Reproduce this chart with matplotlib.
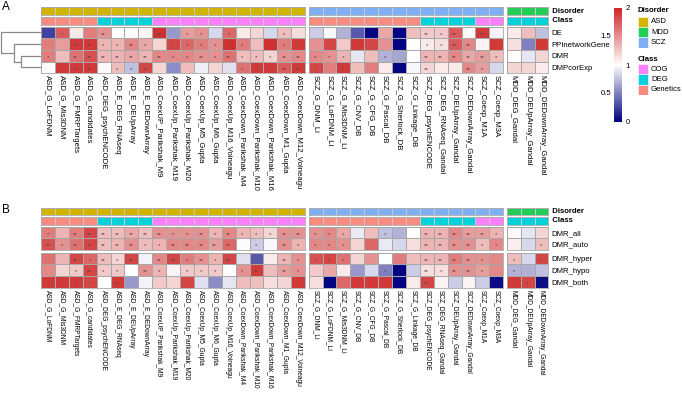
import matplotlib
matplotlib.use('Agg')
import matplotlib.pyplot as plt
import numpy as np
from matplotlib.colors import LinearSegmentedColormap, ListedColormap
from matplotlib.patches import Rectangle
import matplotlib.cm as cm
import matplotlib.colors as mcolors

plt.rcParams['font.family'] = ['Liberation Sans', 'DejaVu Sans']

# ---------------- data ----------------
asd_cols = ['ASD_G_LoFDNM', 'ASD_G_Mis3DNM', 'ASD_G_FMRPTargets', 'ASD_G_candidates',
            'ASD_DEG_psychENCODE', 'ASD_E_DEG_RNAseq', 'ASD_E_DEUpArray', 'ASD_E_DEDownArray',
            'ASD_CoexUP_Parikshak_M9', 'ASD_CoexUp_Parikshak_M19', 'ASD_CoexUp_Parikshak_M20',
            'ASD_CoexUp_M5_Gupta', 'ASD_CoexUp_M6_Gupta', 'ASD_CoexUp_M16_Voineagu',
            'ASD_CoexDown_Parikshak_M4', 'ASD_CoexDown_Parikshak_M10', 'ASD_CoexDown_Parikshak_M16',
            'ASD_CoexDown_M1_Gupta', 'ASD_CoexDown_M12_Voineagu']
scz_cols = ['SCZ_G_DNM_Li', 'SCZ_G_LoFDNM_Li', 'SCZ_G_Mis3DNM_Li', 'SCZ_G_CNV_DB', 'SCZ_G_CFG_DB',
            'SCZ_G_Pascal_DB', 'SCZ_G_Sherlock_DB', 'SCZ_G_Linkage_DB', 'SCZ_DEG_psychENCODE',
            'SCZ_DEG_RNAseq_Gandal', 'SCZ_DEUpArray_Gandal', 'SCZ_DEDownArray_Gandal',
            'SCZ_Coexp_M1A', 'SCZ_Coexp_M3A']
mdd_cols = ['MDD_DEG_Gandal', 'MDD_DEUpArray_Gandal', 'MDD_DEDownArray_Gandal']

asd_class = ['Genetics'] * 4 + ['DEG'] * 4 + ['COG'] * 11
scz_class = ['Genetics'] * 8 + ['DEG'] * 4 + ['COG'] * 2
mdd_class = ['DEG'] * 3

disorder_names = ['ASD', 'MDD', 'SCZ']
disorder_colors = ['#D2B400', '#22CC55', '#7EAEF4']
class_names = ['COG', 'DEG', 'Genetics']
class_colors = ['#FF80FF', '#00D2DC', '#F88A80']

# panel A rows (columns: ASD | SCZ | MDD)
rows_a = ['DE', 'PPInetworkGene', 'DMR', 'DMPcorExp']
DE = [0.25, 1.75, 1.1, 1.6, 1.5, 1.0, 1.02, 1.05, 1.95, 0.6, 1.45, 1.5, 0.85, 1.7, 1.1, 1.2, 0.85, 1.3, 1.15,
      0.8, 0.97, 0.7, 0.35, 0.02, 1.4, 0.02, 1.3, 1.25, 1.25, 1.75, 1.02, 1.9, 1.05,
      1.1, 1.3, 0.75]
PPI = [1.6, 1.45, 1.9, 1.9, 1.35, 1.35, 1.55, 1.4, 1.2, 1.85, 1.7, 1.6, 1.5, 1.95, 1.6, 1.3, 1.95, 1.6, 1.9,
       1.5, 1.85, 1.25, 1.9, 1.85, 1.5, 0.02, 1.0, 1.1, 1.15, 1.75, 1.55, 1.05, 1.9,
       1.15, 0.5, 1.9]
DMR = [1.6, 1.3, 1.65, 1.8, 1.35, 1.35, 1.4, 1.35, 1.55, 1.55, 1.55, 1.5, 1.5, 1.65, 1.3, 1.3, 1.2, 1.5, 1.55,
       1.55, 1.5, 1.35, 0.9, 1.3, 0.7, 0.65, 1.0, 1.35, 1.35, 1.55, 1.4, 1.45, 1.3,
       1.02, 0.9, 1.2]
DMP = [1.02, 1.9, 1.9, 1.9, 1.03, 1.3, 0.75, 1.85, 1.2, 0.55, 1.3, 0.93, 1.2, 0.88, 1.65, 1.9, 1.9, 1.75, 1.9,
       1.85, 1.6, 1.9, 1.3, 1.6, 1.1, 0.02, 0.97, 1.2, 1.1, 1.1, 1.55, 1.45, 0.85,
       1.2, 1.2, 1.1]
# number of stars per cell
DE_sig = [0, 1, 0, 0, 2, 0, 0, 0, 2, 0, 1, 1, 0, 1, 0, 0, 0, 1, 0,
          0, 0, 0, 0, 0, 0, 0, 0, 2, 1, 2, 0, 2, 0,
          0, 0, 0]
PPI_sig = [0, 0, 2, 2, 1, 1, 2, 1, 0, 1, 1, 1, 1, 1, 1, 0, 0, 1, 1,
           0, 0, 0, 1, 0, 0, 0, 0, 1, 1, 2, 2, 0, 0,
           0, 0, 0]
DMR_sig = [1, 0, 2, 2, 2, 2, 2, 2, 2, 1, 1, 2, 1, 2, 1, 1, 1, 2, 2,
           1, 1, 1, 0, 0, 1, 0, 0, 2, 2, 2, 2, 2, 1,
           0, 0, 0]
DMP_sig = [0, 1, 2, 2, 0, 1, 1, 2, 0, 0, 0, 0, 0, 0, 1, 1, 1, 2, 2,
           1, 0, 1, 0, 0, 0, 0, 0, 2, 0, 0, 2, 1, 0,
           0, 0, 0]

# panel B rows
rows_b1 = ['DMR_all', 'DMR_auto']
rows_b2 = ['DMR_hyper', 'DMR_hypo', 'DMR_both']
DMR_all = [1.6, 1.35, 1.6, 1.85, 1.3, 1.3, 1.4, 1.3, 1.5, 1.5, 1.5, 1.5, 1.35, 1.55, 1.35, 1.3, 1.2, 1.5, 1.5,
           1.5, 1.55, 1.4, 0.92, 1.3, 0.75, 0.7, 1.0, 1.35, 1.35, 1.55, 1.45, 1.45, 1.35,
           1.03, 0.9, 1.2]
DMR_auto = [1.8, 1.5, 1.65, 1.85, 1.3, 1.35, 1.5, 1.3, 1.35, 1.55, 1.55, 1.55, 1.45, 1.7, 1.02, 0.8, 0.97, 1.5, 1.35,
            1.55, 1.55, 1.5, 1.2, 1.7, 0.92, 0.85, 1.15, 1.35, 1.35, 1.5, 1.5, 1.3, 1.55,
            1.08, 0.85, 1.3]
DMR_hyper = [1.65, 1.35, 1.85, 1.7, 1.3, 1.2, 1.85, 0.95, 1.55, 1.85, 1.6, 1.5, 1.35, 1.85, 0.88, 0.35, 1.1, 1.35, 1.5,
             1.8, 1.85, 1.65, 1.2, 1.5, 1.0, 1.6, 1.3, 1.35, 1.35, 1.6, 1.5, 1.5, 1.55,
             1.3, 0.85, 1.85]
DMR_hypo = [1.55, 1.2, 1.25, 1.85, 1.25, 1.25, 1.0, 1.5, 1.35, 1.05, 1.25, 1.25, 1.25, 1.0, 1.5, 1.9, 1.3, 1.45, 1.5,
            1.25, 1.4, 1.1, 0.6, 0.85, 0.5, 0.02, 0.8, 1.15, 1.15, 1.5, 1.5, 1.45, 1.55,
            0.7, 0.7, 0.75]
DMR_both = [1.9, 1.9, 1.9, 1.85, 1.0, 1.9, 0.6, 0.95, 1.25, 1.2, 1.85, 0.88, 0.55, 0.9, 1.3, 1.3, 1.15, 1.2, 1.9,
            1.15, 0.02, 1.7, 1.9, 1.9, 1.9, 0.02, 1.1, 1.85, 1.05, 0.8, 1.05, 0.8, 0.05,
            1.9, 1.85, 0.05]
DMR_all_sig = [1, 0, 2, 2, 2, 2, 2, 2, 2, 1, 1, 2, 1, 2, 1, 1, 1, 2, 2,
               1, 1, 1, 0, 0, 1, 0, 0, 2, 2, 2, 2, 2, 1,
               0, 0, 0]
DMR_auto_sig = [2, 1, 2, 2, 2, 2, 2, 1, 1, 2, 2, 2, 2, 2, 0, 1, 0, 2, 1,
                1, 1, 1, 0, 0, 0, 0, 0, 2, 2, 2, 2, 1, 1,
                0, 0, 1]
DMR_hyper_sig = [0, 0, 2, 1, 2, 1, 2, 0, 2, 2, 1, 2, 1, 2, 0, 1, 0, 2, 1,
                 1, 1, 1, 0, 0, 0, 0, 0, 2, 2, 2, 2, 1, 0,
                 1, 0, 1]
DMR_hypo_sig = [0, 0, 1, 2, 1, 1, 0, 2, 1, 0, 1, 1, 1, 0, 1, 2, 0, 2, 1,
                0, 0, 0, 0, 0, 1, 0, 0, 2, 1, 2, 2, 1, 0,
                1, 0, 0]
DMR_both_sig = [1, 0, 1, 1, 0, 2, 0, 0, 0, 0, 0, 0, 0, 0, 0, 0, 0, 0, 0,
                0, 0, 0, 0, 0, 0, 0, 0, 2, 0, 0, 0, 0, 0,
                0, 1, 0]

# dendrogram of panel A rows (scipy-like linkage: left, right, height)
dendro_merges = [(2, 3, 0.49), (1, 4, 0.67), (0, 5, 1.0)]

# ---------------- layout ----------------
W, H = 682, 403
fig = plt.figure(figsize=(W / 100, H / 100), dpi=100)

def px_axes(x0, y0, x1, y1):
    return fig.add_axes([x0 / W, 1 - y1 / H, (x1 - x0) / W, (y1 - y0) / H])

cmap = LinearSegmentedColormap.from_list('bwr_ch', ['#000080', '#FFFFFF', '#CD2626'])
blocks = [('ASD', asd_cols, asd_class), ('SCZ', scz_cols, scz_class), ('MDD', mdd_cols, mdd_class)]
cell_w = 13.9
block_gap = 3.5
x_start = 41
grid_col = '#A8A8A8'
LBL = 5.6

def block_x():
    out = []
    x = x_start
    for name, cols, _ in blocks:
        out.append((x, x + cell_w * len(cols)))
        x += cell_w * len(cols) + block_gap
    return out

def style(ax):
    ax.set_xticks([])
    ax.set_yticks([])
    for s in ax.spines.values():
        s.set_color(grid_col)
        s.set_linewidth(0.6)

def draw_panel(letter, letter_y, ann_y, groups, col_fs):
    xs = block_x()
    fig.text(2 / W, 1 - letter_y / H, letter, fontsize=8.5, va='top', ha='left')
    offset = 0
    for bi, (name, cols, classes) in enumerate(blocks):
        n = len(cols)
        x0, x1 = xs[bi]
        # annotations
        dis = [[disorder_names.index(name)] * n]
        cls = [[class_names.index(c) for c in classes]]
        for (ay0, ay1), data, colors, label in [(ann_y[0], dis, disorder_colors, 'Disorder'),
                                                (ann_y[1], cls, class_colors, 'Class')]:
            ax = px_axes(x0, ay0, x1, ay1)
            ax.pcolormesh(np.array(data), cmap=ListedColormap(colors), vmin=-0.5, vmax=2.5,
                          edgecolors='#C8C8C8', linewidth=0.5)
            style(ax)
            ax.set_xlim(0, n)
            if bi == len(blocks) - 1:
                ax.text(1.0, 0.5, '  ' + label, transform=ax.transAxes, fontsize=LBL,
                        fontweight='bold', va='center', ha='left')
        # heatmap groups
        for gi, (gy0, gy1, rnames, vals, sigs) in enumerate(groups):
            ax = px_axes(x0, gy0, x1, gy1)
            m = np.array([v[offset:offset + n] for v in vals])
            s = np.array([v[offset:offset + n] for v in sigs])
            ax.pcolormesh(m, cmap=cmap, vmin=0, vmax=2, edgecolors=grid_col, linewidth=0.6)
            ax.set_xlim(0, n)
            ax.set_ylim(len(rnames), 0)
            style(ax)
            for i in range(m.shape[0]):
                for j in range(n):
                    if s[i, j]:
                        ax.text(j + 0.5, i + 0.66, '*' * s[i, j], fontsize=4.4, color='#484848',
                                ha='center', va='center')
            if bi == len(blocks) - 1:
                ax.yaxis.tick_right()
                ax.set_yticks(np.arange(len(rnames)) + 0.5)
                ax.set_yticklabels(rnames, fontsize=LBL)
                ax.tick_params(axis='y', length=0, pad=2)
            if gi == len(groups) - 1:
                ax.set_xticks(np.arange(n) + 0.5)
                ax.set_xticklabels(cols, rotation=270, fontsize=col_fs, va='top', ha='center')
                ax.tick_params(axis='x', length=0, pad=1.5)
        offset += n

# panel A
draw_panel('A', 1.5, [(7.3, 15.3), (17.0, 24.6)],
           [(26.5, 73.3, rows_a, [DE, PPI, DMR, DMP], [DE_sig, PPI_sig, DMR_sig, DMP_sig])],
           LBL)

# dendrogram
dax = px_axes(0, 26.5, 41, 73.3)
ypos = {i: i + 0.5 for i in range(len(rows_a))}
hpos = {i: 0.0 for i in range(len(rows_a))}
node = len(rows_a)
for a, b, h in dendro_merges:
    dax.plot([hpos[a], h, h, hpos[b]], [ypos[a], ypos[a], ypos[b], ypos[b]],
             color='#8A8A8A', lw=0.9, solid_capstyle='butt')
    ypos[node] = (ypos[a] + ypos[b]) / 2
    hpos[node] = h
    node += 1
dax.set_xlim(1.02, 0)
dax.set_ylim(len(rows_a), 0)
dax.axis('off')

# panel B
draw_panel('B', 203.5, [(207.5, 215.3), (217.0, 224.6)],
           [(226.7, 250.0, rows_b1, [DMR_all, DMR_auto], [DMR_all_sig, DMR_auto_sig]),
            (252.7, 287.5, rows_b2, [DMR_hyper, DMR_hypo, DMR_both],
             [DMR_hyper_sig, DMR_hypo_sig, DMR_both_sig])],
           4.8)

# ---------------- legends ----------------
cax = px_axes(614, 8, 622, 122)
sm = cm.ScalarMappable(norm=mcolors.Normalize(0, 2), cmap=cmap)
cb = fig.colorbar(sm, cax=cax, ticks=[0, 1, 2])
cb.outline.set_visible(False)
cax.set_yticklabels(['0', '1', '2'], fontsize=LBL)
cax.tick_params(length=0, pad=2.5)
for v in [0.5, 1.5]:
    cax.text(-0.35, v, str(v), fontsize=LBL, ha='right', va='center')

def cat_legend(title, names, colors, y_title, y0):
    fig.text(638 / W, 1 - y_title / H, title, fontsize=LBL, fontweight='bold', va='center', ha='left')
    lax = px_axes(637.5, y0, 682, y0 + 10.3 * len(names))
    for i, (nm, c) in enumerate(zip(names, colors)):
        lax.add_patch(Rectangle((0, i), 10.3, 1, facecolor=c, edgecolor='white', lw=0.4))
        lax.text(13.5, i + 0.5, nm, fontsize=LBL, va='center', ha='left')
    lax.set_xlim(0, 44.5)
    lax.set_ylim(len(names), 0)
    lax.axis('off')

cat_legend('Disorder', disorder_names, disorder_colors, 10.5, 16.8)
cat_legend('Class', class_names, class_colors, 59.5, 64.0)

fig.savefig('out.png', dpi=100)
